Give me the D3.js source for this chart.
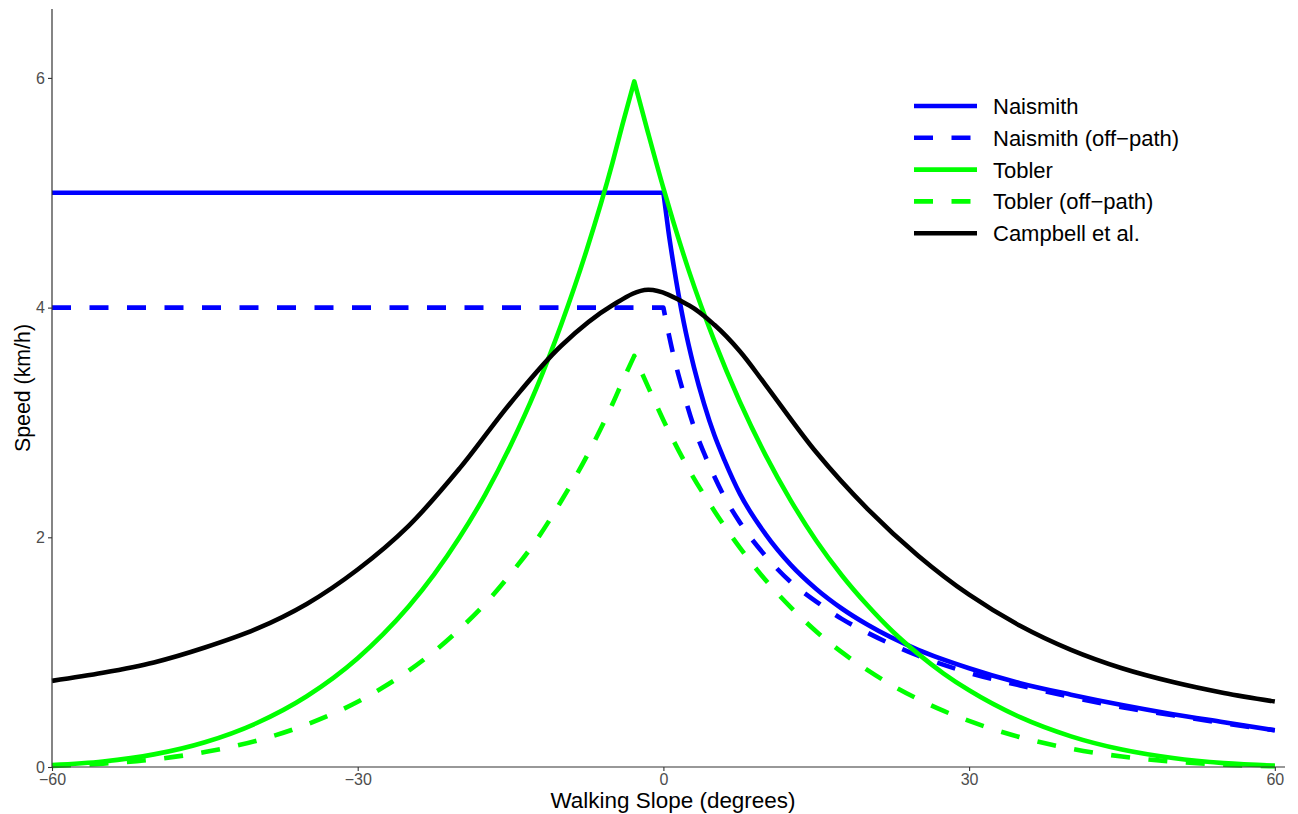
<!DOCTYPE html>
<html>
<head>
<meta charset="utf-8">
<script src="https://cdn.jsdelivr.net/npm/d3@7"></script>
<style>
  html, body { margin: 0; padding: 0; background: #fff; }
  svg { display: block; font-family: "Liberation Sans", Arial, Helvetica, sans-serif; }
</style>
</head>
<body>
<svg id="chart" width="1298" height="814"></svg>
<script>
// ---- Data ----
const xTicks = [-60, -30, 0, 30, 60];
const yTicks = [0, 2, 4, 6];
const seriesNames = ["Naismith", "Naismith (off\u2212path)", "Tobler", "Tobler (off\u2212path)", "Campbell et al."];

const naismithX = [-60, 0, 0.5, 1, 2, 3, 4, 5, 6, 7.5, 10, 12.5, 15, 17.5, 20, 25, 30, 35, 40, 45, 50, 55, 60];
const naismithY = [5, 5, 4.66, 4.37, 3.87, 3.48, 3.16, 2.89, 2.67, 2.38, 2.03, 1.76, 1.55, 1.38, 1.24, 1.02, 0.86, 0.73, 0.63, 0.54, 0.46, 0.39, 0.32];

const naismithOffX = [-60, 0, 0.5, 1, 2, 3, 4, 5, 6, 7.5, 10, 12.5, 15, 17.5, 20, 25, 30, 35, 40, 45, 50, 55, 60];
const naismithOffY = [4, 4, 3.78, 3.58, 3.25, 2.96, 2.73, 2.53, 2.35, 2.13, 1.84, 1.61, 1.44, 1.29, 1.17, 0.97, 0.82, 0.71, 0.61, 0.52, 0.45, 0.38, 0.32];

const toblerX = [-60, -55, -50, -45, -40, -35, -30, -27.5, -25, -22.5, -20, -17.5, -15, -12.5, -10, -7.5, -5, -4, -2.86, -1.5, 0, 1, 2.5, 5, 7.5, 10, 12.5, 15, 17.5, 20, 22.5, 25, 27.5, 30, 35, 40, 45, 50, 55, 60];
const toblerY = [0.017, 0.048, 0.110, 0.216, 0.379, 0.616, 0.947, 1.156, 1.397, 1.677, 2.00, 2.37, 2.80, 3.29, 3.86, 4.51, 5.26, 5.60, 5.97, 5.52, 5.04, 4.74, 4.32, 3.71, 3.18, 2.72, 2.32, 1.97, 1.67, 1.41, 1.18, 0.985, 0.814, 0.668, 0.434, 0.267, 0.152, 0.078, 0.034, 0.012];

const toblerOffX = [-60, -55, -50, -45, -40, -35, -30, -27.5, -25, -22.5, -20, -17.5, -15, -12.5, -10, -7.5, -5, -4, -2.86, -1.5, 0, 1, 2.5, 5, 7.5, 10, 12.5, 15, 17.5, 20, 22.5, 25, 27.5, 30, 35, 40, 45, 50, 55, 60];
const toblerOffY = [0.010, 0.029, 0.066, 0.130, 0.227, 0.370, 0.568, 0.694, 0.838, 1.006, 1.20, 1.42, 1.68, 1.97, 2.32, 2.71, 3.16, 3.36, 3.58, 3.31, 3.02, 2.84, 2.59, 2.23, 1.91, 1.63, 1.39, 1.18, 1.00, 0.846, 0.708, 0.591, 0.488, 0.401, 0.260, 0.160, 0.091, 0.047, 0.020, 0.007];

const campbellX = [-60, -55, -50, -45, -40, -35, -30, -25, -20, -15, -10, -5, -1.5, 2.5, 5, 7.5, 10, 15, 20, 25, 30, 35, 40, 45, 50, 55, 60];
const campbellY = [0.75, 0.82, 0.91, 1.04, 1.20, 1.42, 1.72, 2.10, 2.60, 3.17, 3.67, 4.02, 4.155, 4.02, 3.85, 3.62, 3.33, 2.74, 2.25, 1.84, 1.50, 1.23, 1.02, 0.86, 0.74, 0.645, 0.57];

const colors = ["#0000ff", "#0000ff", "#00ff00", "#00ff00", "#000000"];
const dashed = [false, true, false, true, false];
const splitAt = [1, 1, 18, 18, null];   // index of corner / cusp in each series

// ---- Layout ----
const svg = d3.select("#chart");
const pLeft = 52, pRight = 1285, pTop = 9, pBottom = 767;
const x = d3.scaleLinear().domain([-60, 61]).range([pLeft, pRight]);
const y = d3.scaleLinear().domain([0, 6.6]).range([pBottom, pTop]);
const DASH = "19,18.5";
const LW = 4.6;

const series = [
  [naismithX, naismithY],
  [naismithOffX, naismithOffY],
  [toblerX, toblerY],
  [toblerOffX, toblerOffY],
  [campbellX, campbellY]
];

const line = d3.line().x(d => x(d[0])).y(d => y(d[1])).curve(d3.curveMonotoneX);
const smooth = d3.line().x(d => x(d[0])).y(d => y(d[1])).curve(d3.curveCatmullRom.alpha(0.5));

const plot = svg.append("g");
series.forEach((s, i) => {
  const pts = s[0].map((v, k) => [v, s[1][k]]);
  let d;
  const k = splitAt[i];
  if (k === null) {
    d = smooth(pts);
  } else {
    const a = pts.slice(0, k + 1), b = pts.slice(k);
    d = line(a) + line(b).replace(/^M/, "L");
  }
  plot.append("path")
    .attr("d", d)
    .attr("fill", "none")
    .attr("stroke", colors[i])
    .attr("stroke-width", LW)
    .attr("stroke-dasharray", dashed[i] ? DASH : null)
    .attr("stroke-linejoin", "round");
});

// ---- Axes ----
const fmt = d => d < 0 ? "\u2212" + Math.abs(d) : String(d);
const xAxis = d3.axisBottom(x).tickValues(xTicks).tickSize(4).tickPadding(3).tickFormat(fmt);
const gx = svg.append("g").attr("transform", `translate(0,${pBottom})`).call(xAxis);
gx.select(".domain").attr("d", `M${pLeft},0H${pRight}`).attr("stroke", "#333").attr("stroke-width", 1.2);
gx.selectAll(".tick line").attr("stroke", "#333").attr("stroke-width", 1.1);
gx.selectAll(".tick text").attr("fill", "#4d4d4d").attr("font-size", 16).attr("font-family", "Liberation Sans, Arial, sans-serif");

const yAxis = d3.axisLeft(y).tickValues(yTicks).tickSize(4).tickPadding(3).tickFormat(fmt);
const gy = svg.append("g").attr("transform", `translate(${pLeft},0)`).call(yAxis);
gy.select(".domain").attr("d", `M0,${pTop}V${pBottom}`).attr("stroke", "#333").attr("stroke-width", 1.2);
gy.selectAll(".tick line").attr("stroke", "#333").attr("stroke-width", 1.1);
gy.selectAll(".tick text").attr("fill", "#4d4d4d").attr("font-size", 16).attr("font-family", "Liberation Sans, Arial, sans-serif");

svg.append("text")
  .attr("x", 673).attr("y", 808)
  .attr("text-anchor", "middle")
  .attr("font-size", 22).attr("fill", "#000")
  .attr("textLength", 245).attr("lengthAdjust", "spacingAndGlyphs")
  .text("Walking Slope (degrees)");

svg.append("text")
  .attr("transform", `translate(29.5,${(pTop + pBottom) / 2}) rotate(-90)`)
  .attr("text-anchor", "middle")
  .attr("font-size", 22).attr("fill", "#000")
  .attr("textLength", 128).attr("lengthAdjust", "spacingAndGlyphs")
  .text("Speed (km/h)");

// ---- Legend ----
const lg = svg.append("g");
const legY0 = 106, legStep = 31.8;
seriesNames.forEach((name, i) => {
  const yy = legY0 + i * legStep;
  lg.append("line")
    .attr("x1", 914).attr("x2", 977).attr("y1", yy).attr("y2", yy)
    .attr("stroke", colors[i]).attr("stroke-width", LW)
    .attr("stroke-dasharray", dashed[i] ? DASH : null);
  lg.append("text")
    .attr("x", 993).attr("y", yy).attr("dy", "0.36em")
    .attr("font-size", 22).attr("fill", "#000")
    .text(name);
});
</script>
</body>
</html>
